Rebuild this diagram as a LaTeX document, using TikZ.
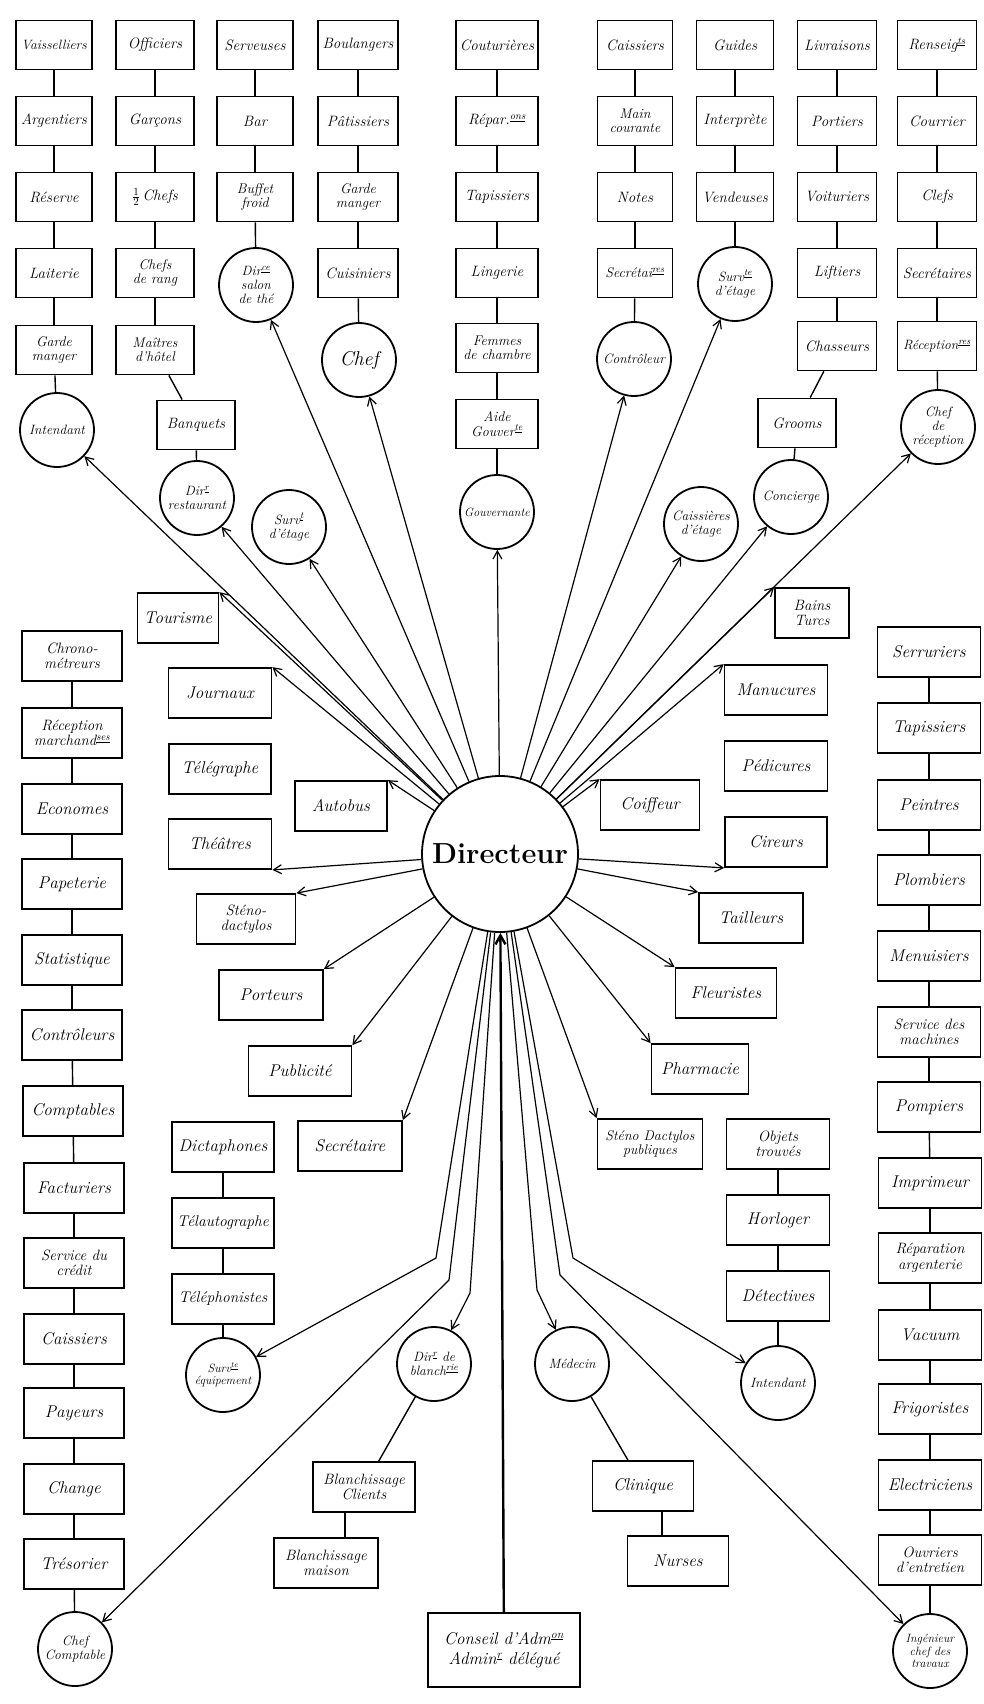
\documentclass[tikz,border=0pt]{standalone}
\usepackage{fontspec}
\usetikzlibrary{arrows.meta}
\newcommand\fA{\fontsize{15}{15.5}\selectfont\itshape}
\newcommand\fB{\fontsize{17}{17.5}\selectfont\itshape}
\newcommand\fC{\fontsize{13.5}{14}\selectfont\itshape}
\newcommand\fD{\fontsize{14}{14.5}\selectfont\itshape}
\newcommand\fE{\fontsize{15}{15.5}\selectfont\itshape}
\newcommand\fS{\fontsize{12}{12.5}\selectfont\itshape}
\newcommand\su[1]{\textsuperscript{\underline{#1}}}
\begin{document}
\begin{tikzpicture}[x=1pt,y=-1pt,
 nb/.style={draw,line width=1.8pt,minimum width=78pt,minimum height=49pt,inner sep=1pt,align=center,font=\fA},
 wb/.style={draw,line width=1.8pt,minimum width=102pt,minimum height=50pt,inner sep=1pt,align=center,font=\fB},
 cn/.style={draw,circle,line width=1.8pt,minimum size=74pt,inner sep=0pt,align=center,font=\fC},
 two/.style={font=\fD},
 twow/.style={font=\fE},
 sm/.style={font=\fS},
 ln/.style={line width=1.4pt},
 arr/.style={line width=1.2pt,-{Straight Barb[length=8pt,width=9pt]}},
]
\fill[white] (0,0) rectangle (984,1704);
\useasboundingbox (0,0) rectangle (984,1704);

% Director
\node[draw,circle,line width=1.8pt,minimum size=156pt,inner sep=0pt,font=\fontsize{29}{31}\selectfont\bfseries] (D) at (500,854) {Directeur};

% column 1
\node[nb,minimum width=76pt,font=\fontsize{13.5}{14}\selectfont\itshape] (a1) at (54,45) {Vaisselliers};
\node[nb,minimum width=76pt] (a2) at (54,121) {Argentiers};
\node[nb,minimum width=76pt] (a3) at (54,197) {Réserve};
\node[nb,minimum width=76pt] (a4) at (54,273) {Laiterie};
\node[nb,minimum width=76pt,two] (a5) at (54,350) {Garde\\manger};
\node[cn] (a6) at (57,430) {Intendant};
% column 2
\node[nb] (b1) at (155,45) {Officiers};
\node[nb] (b2) at (155,121) {Garçons};
\node[nb] (b3) at (155,197) {$\frac{1}{2}$\,Chefs};
\node[nb,two] (b4) at (155,273) {Chefs\\de rang};
\node[nb,two] (b5) at (155,350) {Maîtres\\d'hôtel};
\node[nb] (b6) at (196,425) {Banquets};
\node[cn] (b7) at (197,498) {Dir\su{r}\\restaurant};
% column 3
\node[nb,minimum width=76pt] (c1) at (255,45) {Serveuses};
\node[nb,minimum width=76pt] (c2) at (255,121) {Bar};
\node[nb,minimum width=76pt,two] (c3) at (255,197) {Buffet\\froid};
\node[cn] (c4) at (256,285) {Dir\su{ce}\\salon\\de thé};
% column 4
\node[nb,minimum width=80pt] (d1) at (358,45) {Boulangers};
\node[nb,minimum width=80pt] (d2) at (358,121) {Pâtissiers};
\node[nb,minimum width=80pt,two] (d3) at (358,197) {Garde\\manger};
\node[nb,minimum width=80pt] (d4) at (358,273) {Cuisiniers};
\node[cn,font=\fontsize{20}{21}\selectfont\itshape] (d5) at (359,360) {Chef};
% column 5
\node[nb,minimum width=82pt] (e1) at (497,45) {Couturières};
\node[nb,minimum width=82pt] (e2) at (497,121) {Répar.\su{ons}};
\node[nb,minimum width=82pt] (e3) at (497,197) {Tapissiers};
\node[nb,minimum width=82pt] (e4) at (497,273) {Lingerie};
\node[nb,minimum width=82pt,two] (e5) at (497,348) {Femmes\\de chambre};
\node[nb,minimum width=82pt,two] (e6) at (497,424) {Aide\\Gouver\su{te}};
\node[cn,sm] (e7) at (497,512) {Gouvernante};
% column 6
\node[nb,minimum width=75pt] (f1) at (635,45) {Caissiers};
\node[nb,minimum width=75pt,two] (f2) at (635,121) {Main\\courante};
\node[nb,minimum width=75pt] (f3) at (635,197) {Notes};
\node[nb,minimum width=75pt,font=\fontsize{14}{14.5}\selectfont\itshape] (f4) at (635,273) {Secrétai\su{res}};
\node[cn] (f5) at (634,359) {Contrôleur};
% column 7
\node[nb,minimum width=77pt] (g1) at (735,45) {Guides};
\node[nb,minimum width=77pt] (g2) at (735,121) {Interprète};
\node[nb,minimum width=77pt] (g3) at (735,197) {Vendeuses};
\node[cn] (g4) at (735,284) {Surv\su{te}\\d'étage};
% column 8
\node[nb,minimum width=79pt] (h1) at (837,45) {Livraisons};
\node[nb,minimum width=79pt] (h2) at (837,121) {Portiers};
\node[nb,minimum width=79pt] (h3) at (837,197) {Voituriers};
\node[nb,minimum width=79pt] (h4) at (837,273) {Liftiers};
\node[nb,minimum width=79pt] (h5) at (837,346) {Chasseurs};
\node[nb,minimum width=78pt] (h6) at (797,423) {Grooms};
\node[cn] (h7) at (791,497) {Concierge};
% column 9
\node[nb,minimum width=79pt] (i1) at (937,45) {Renseig\su{ts}};
\node[nb,minimum width=79pt] (i2) at (937,121) {Courrier};
\node[nb,minimum width=79pt] (i3) at (937,197) {Clefs};
\node[nb,minimum width=79pt] (i4) at (937,273) {Secrétaires};
\node[nb,minimum width=79pt,font=\fontsize{13.5}{14}\selectfont\itshape] (i5) at (937,346) {Réception\su{res}};
\node[cn] (i6) at (938,427) {Chef\\de\\réception};
% extra circles top
\node[cn] (j1) at (701,524) {Caissières\\d'étage};
\node[cn] (j2) at (289,527) {Surv\su{t}\\d'étage};

% left column
\node[wb,minimum width=100pt,twow] (k1) at (72,656) {Chrono-\\métreurs};
\node[wb,minimum width=100pt,twow] (k2) at (72,733) {Réception\\marchand\su{ses}};
\node[wb,minimum width=100pt] (k3) at (72,809) {Economes};
\node[wb,minimum width=100pt] (k4) at (72,884) {Papeterie};
\node[wb,minimum width=100pt] (k5) at (72,960) {Statistique};
\node[wb,minimum width=100pt] (k6) at (72,1035) {Contrôleurs};
\node[wb,minimum width=100pt] (k7) at (73,1111) {Comptables};
\node[wb,minimum width=100pt] (k8) at (74,1188) {Facturiers};
\node[wb,minimum width=100pt,twow] (k9) at (74,1263) {Service du\\crédit};
\node[wb,minimum width=100pt] (k10) at (74,1339) {Caissiers};
\node[wb,minimum width=100pt] (k11) at (74,1413) {Payeurs};
\node[wb,minimum width=100pt] (k12) at (74,1489) {Change};
\node[wb,minimum width=100pt] (k13) at (74,1564) {Trésorier};
\node[cn] (k14) at (75,1649) {Chef\\Comptable};

% middle left
\node[wb,minimum width=81pt] (m1) at (178,618) {Tourisme};
\node[wb,minimum width=103pt] (m2) at (220,693) {Journaux};
\node[wb] (m3) at (220,769) {Télégraphe};
\node[wb,minimum width=92pt] (m4) at (341,806) {Autobus};
\node[wb,minimum width=103pt] (m5) at (220,844) {Théâtres};
\node[wb,minimum width=99pt,twow] (m6) at (246,919) {Sténo-\\dactylos};
\node[wb,minimum width=104pt] (m7) at (271,995) {Porteurs};
\node[wb,minimum width=103pt] (m8) at (300,1071) {Publicité};
\node[wb,minimum width=104pt] (m9) at (350,1146) {Secrétaire};
\node[wb] (m10) at (223,1147) {Dictaphones};
\node[wb,font=\fontsize{15.5}{16}\selectfont\itshape] (m11) at (223,1223) {Télautographe};
\node[wb,font=\fontsize{15.5}{16}\selectfont\itshape] (m12) at (223,1299) {Téléphonistes};
\node[cn,sm] (m13) at (223,1375) {Surv\su{te}\\équipement};
\node[cn] (m14) at (434,1364) {Dir\su{r} de\\blanch\su{rie}};
\node[wb,twow] (m15) at (364,1487) {Blanchissage\\Clients};
\node[wb,minimum width=104pt,twow] (m16) at (326,1563) {Blanchissage\\maison};
\node[wb,minimum width=152pt,minimum height=74pt,font=\fontsize{17}{20}\selectfont\itshape] (m17) at (504,1650) {Conseil d'Adm\su{on}\\Admin\su{r} délégué};

% middle right
\node[wb,minimum width=74pt,twow] (n1) at (812,613) {Bains\\Turcs};
\node[wb,minimum width=103pt] (n2) at (776,690) {Manucures};
\node[wb,minimum width=103pt] (n3) at (776,766) {Pédicures};
\node[wb,minimum width=99pt] (n4) at (650,805) {Coiffeur};
\node[wb] (n5) at (776,842) {Cireurs};
\node[wb,minimum width=104pt] (n6) at (751,918) {Tailleurs};
\node[wb,minimum width=101pt] (n7) at (726,993) {Fleuristes};
\node[wb,minimum width=97pt] (n8) at (700,1069) {Pharmacie};
\node[wb,minimum width=105pt,font=\fontsize{14}{14.5}\selectfont\itshape] (n9) at (650,1144) {Sténo Dactylos\\publiques};
\node[wb,minimum width=103pt,twow] (n10) at (778,1144) {Objets\\trouvés};
\node[wb,minimum width=103pt] (n11) at (778,1220) {Horloger};
\node[wb,minimum width=103pt] (n12) at (778,1296) {Détectives};
\node[cn] (n13) at (778,1383) {Intendant};
\node[cn] (n14) at (572,1364) {Médecin};
\node[wb,minimum width=101pt] (n15) at (643,1486) {Clinique};
\node[wb,minimum width=101pt] (n16) at (678,1561) {Nurses};

% right column
\node[wb,minimum width=103pt] (p1) at (929,652) {Serruriers};
\node[wb,minimum width=103pt] (p2) at (929,728) {Tapissiers};
\node[wb,minimum width=103pt] (p3) at (929,805) {Peintres};
\node[wb,minimum width=103pt] (p4) at (929,880) {Plombiers};
\node[wb,minimum width=103pt] (p5) at (929,956) {Menuisiers};
\node[wb,minimum width=103pt,twow] (p6) at (929,1032) {Service des\\machines};
\node[wb,minimum width=103pt] (p7) at (929,1107) {Pompiers};
\node[wb,minimum width=103pt] (p8) at (930,1183) {Imprimeur};
\node[wb,minimum width=103pt,twow] (p9) at (930,1258) {Réparation\\argenterie};
\node[wb,minimum width=103pt] (p10) at (930,1335) {Vacuum};
\node[wb,minimum width=103pt] (p11) at (930,1409) {Frigoristes};
\node[wb,minimum width=103pt] (p12) at (930,1485) {Electriciens};
\node[wb,minimum width=103pt,twow] (p13) at (930,1560) {Ouvriers\\d'entretien};
\node[cn,sm] (p14) at (930,1651) {Ingénieur\\chef des\\travaux};

% tree connectors
\foreach \u/\v in {a1/a2,a2/a3,a3/a4,a4/a5,a5/a6,
  b1/b2,b2/b3,b3/b4,b4/b5,b5/b6,b6/b7,
  c1/c2,c2/c3,c3/c4,
  d1/d2,d2/d3,d3/d4,d4/d5,
  e1/e2,e2/e3,e3/e4,e4/e5,e5/e6,e6/e7,
  f1/f2,f2/f3,f3/f4,f4/f5,
  g1/g2,g2/g3,g3/g4,
  h1/h2,h2/h3,h3/h4,h4/h5,h5/h6,h6/h7,
  i1/i2,i2/i3,i3/i4,i4/i5,i5/i6,
  k1/k2,k2/k3,k3/k4,k4/k5,k5/k6,k6/k7,k7/k8,k8/k9,k9/k10,k10/k11,k11/k12,k12/k13,k13/k14,
  m10/m11,m11/m12,m12/m13,m14/m15,
  n10/n11,n11/n12,n12/n13,n14/n15,
  p1/p2,p2/p3,p3/p4,p4/p5,p5/p6,p6/p7,p7/p8,p8/p9,p9/p10,p10/p11,p11/p12,p12/p13,p13/p14}
  \draw[ln] (\u) -- (\v);
\coordinate (bcx) at (345,1520);
\draw[ln] (bcx |- m15.south) -- (bcx |- m16.north);
\coordinate (clx) at (662,1520);
\draw[ln] (clx |- n15.south) -- (clx |- n16.north);

% arrows to circles above
\foreach \t in {a6,b7,j2,c4,d5,e7,f5,g4,j1,h7,i6}
  \draw[arr] (D) -- (\t);
% arrows to boxes left
\draw[arr] (D) -- (m1.north east);
\draw[arr] (D) -- (m2.north east);
\draw[arr] (D) -- (m4.north east);
\draw[arr] (D) -- (m5.south east);
\draw[arr] (D) -- (m6.north east);
\draw[arr] (D) -- (m7.north east);
\draw[arr] (D) -- (m8.north east);
\draw[arr] (D) -- (m9.north east);
% arrows to boxes right
\draw[arr] (D) -- (n1.north west);
\draw[arr] (D) -- (n2.north west);
\draw[arr] (D) -- (n4.north west);
\draw[arr] (D) -- (n5.south west);
\draw[arr] (D) -- (n6.north west);
\draw[arr] (D) -- (n7.north west);
\draw[arr] (D) -- (n8.north west);
\draw[arr] (D) -- (n9.north west);
% bent arrows below
\coordinate (q1) at (436,1258);
\coordinate (q2) at (449,1280);
\coordinate (q3) at (470,1293);
\coordinate (q4) at (537,1290);
\coordinate (q5) at (560,1275);
\coordinate (q6) at (573,1258);
\draw[arr] (D) -- (q1) -- (m13);
\draw[arr] (D) -- (q2) -- (k14);
\draw[arr] (D) -- (q3) -- (m14);
\draw[arr] (D) -- (q4) -- (n14);
\draw[arr] (D) -- (q5) -- (p14);
\draw[arr] (D) -- (q6) -- (n13);
% board of directors
\draw[line width=2.4pt,-{Straight Barb[length=9pt,width=10pt]}] (m17) -- (D);
\end{tikzpicture}
\end{document}
